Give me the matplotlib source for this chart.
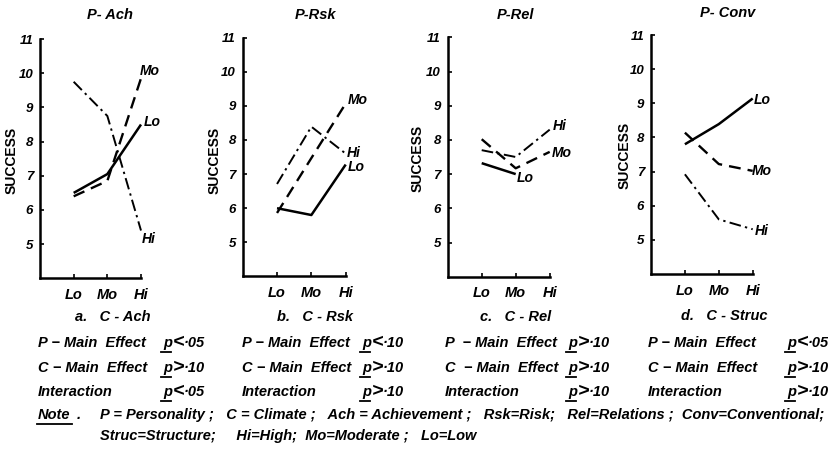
import matplotlib
matplotlib.use("Agg")
import matplotlib.pyplot as plt
from matplotlib.lines import Line2D

# ---------------- data ----------------
climate_levels = ["Lo", "Mo", "Hi"]
panel_titles = ["P- Ach", "P-Rsk", "P-Rel", "P- Conv"]
panel_xlabels = ["a.   C - Ach", "b.   C - Rsk", "c.   C - Rel", "d.   C - Struc"]

# success values by personality level (Lo, Mo, Hi) over climate (Lo, Mo, Hi)
ach_lo = [6.5, 7.05, 8.5]
ach_mo = [6.4, 6.85, 9.85]
ach_hi = [9.75, 8.75, 5.4]

rsk_lo = [6.0, 5.8, 7.28]
rsk_mo = [5.86, 7.47, 9.07]
rsk_hi = [6.71, 8.39, 7.6]

rel_lo = [7.32, 7.0]
rel_mo = [8.02, 7.17, 7.65]
rel_hi = [7.7, 7.5, 8.3]

conv_lo = [7.8, 8.39, 9.14]
conv_mo = [8.14, 7.22, 7.02]
conv_hi = [6.92, 5.6, 5.31]

y_ticks = [5, 6, 7, 8, 9, 10, 11]

p_main = ["<·05", "<·10", ">·10", "<·05"]
c_main = [">·10", ">·10", ">·10", ">·10"]
interaction = ["<·05", ">·10", ">·10", ">·10"]

panels = [
    {"Lo": ach_lo, "Mo": ach_mo, "Hi": ach_hi},
    {"Lo": rsk_lo, "Mo": rsk_mo, "Hi": rsk_hi},
    {"Lo": rel_lo, "Mo": rel_mo, "Hi": rel_hi},
    {"Lo": conv_lo, "Mo": conv_mo, "Hi": conv_hi},
]

# ---------------- layout ----------------
W, H = 829, 459
fig = plt.figure(figsize=(W / 100, H / 100), dpi=100)
FONT = "Liberation Sans"


def fx(x):
    return x / W


def fy(y):
    return 1 - y / H


# axes boxes in pixels: left, top, right, bottom
boxes = [
    (40, 39, 141, 278.4),
    (242.7, 37.7, 345.7, 276.4),
    (447.7, 37.3, 549.7, 276.7),
    (651, 35, 752.7, 274),
]
title_pos = [(110, 15), (315, 15), (515, 15), (728, 13)]
xlabel_pos = [(113, 317), (315, 317), (516, 317), (724, 316)]
ylabel_pos = [(12, 160), (215, 160), (418, 158), (625, 155)]

styles = {
    "Lo": dict(linestyle="-", lw=1.8),
    "Mo": dict(linestyle=(0, (5, 3)), lw=1.7),
    "Hi": dict(linestyle=(0, (6, 2.2, 1.2, 2.2)), lw=1.4),
}

# label positions (data coords) for line end labels
label_pos = [
    {"Mo": (3.25, 10.06), "Lo": (3.32, 8.57), "Hi": (3.24, 5.15)},
    {"Mo": (3.35, 9.17), "Hi": (3.22, 7.61), "Lo": (3.32, 7.2)},
    {"Hi": (3.28, 8.41), "Mo": (3.35, 7.63), "Lo": (2.27, 6.88)},
    {"Lo": (3.27, 9.11), "Mo": (3.27, 7.02), "Hi": (3.27, 5.26)},
]

tfont = dict(family=FONT, weight="bold", style="italic")

for i, (l, t, r, b) in enumerate(boxes):
    ax = fig.add_axes([fx(l), fy(b), fx(r) - fx(l), (b - t) / H])
    ax.set_xlim(0, 3)
    ax.set_ylim(4, 11)
    for lvl in ["Lo", "Mo", "Hi"]:
        vals = panels[i][lvl]
        xs = list(range(1, len(vals) + 1))
        ax.plot(xs, vals, color="black", solid_capstyle="butt",
                dash_capstyle="butt", clip_on=False, **styles[lvl])
        lx, ly = label_pos[i][lvl]
        ax.text(lx, ly, lvl, ha="center", va="center", fontsize=10,
                clip_on=False, **tfont)
    ax.spines["top"].set_visible(False)
    ax.spines["right"].set_visible(False)
    for s in ["left", "bottom"]:
        ax.spines[s].set_linewidth(1.8)
    ax.set_xticks([1, 2, 3])
    ax.set_xticklabels(climate_levels)
    ax.set_yticks(y_ticks)
    ax.set_yticklabels([str(v) for v in y_ticks])
    ax.tick_params(axis="both", direction="in", length=3, width=1.2,
                   labelsize=9.5)
    ax.tick_params(axis="x", labelsize=10.5)
    ax.tick_params(axis="y", pad=5)
    ax.tick_params(axis="x", pad=7)
    for lab in ax.get_xticklabels() + ax.get_yticklabels():
        lab.set_fontfamily(FONT)
        lab.set_fontweight("bold")
        lab.set_fontstyle("italic")
    ax.patch.set_alpha(0)

    tx, ty = title_pos[i]
    fig.text(fx(tx), fy(ty), panel_titles[i], ha="center", va="center",
             fontsize=10.5, **tfont)
    xx, xy = xlabel_pos[i]
    fig.text(fx(xx), fy(xy), panel_xlabels[i], ha="center", va="center",
             fontsize=10.5, **tfont)
    yx, yy = ylabel_pos[i]
    fig.text(fx(yx), fy(yy), "SUCCESS", ha="center", va="center",
             rotation=90, fontsize=10, family=FONT, weight="bold")

# ---------------- statistics table ----------------
row_y = [343, 368, 392]
row_names = [["P − Main  Effect", "C − Main  Effect", "Interaction"],
             ["P − Main  Effect", "C − Main  Effect", "Interaction"],
             ["P  − Main  Effect", "C  − Main  Effect", "Interaction"],
             ["P − Main  Effect", "C − Main  Effect", "Interaction"]]
col_x = [38, 242, 445, 648]
p_x = [163, 362, 568, 787]
rows = [p_main, c_main, interaction]

for ci in range(4):
    for ri in range(3):
        y = row_y[ri]
        fig.text(fx(col_x[ci]), fy(y), row_names[ci][ri], ha="left", va="center",
                 fontsize=10.5, **tfont)
        fig.text(fx(p_x[ci]), fy(y), "p", ha="left", va="center",
                 fontsize=10.5, **tfont)
        fig.add_artist(Line2D([fx(p_x[ci] - 2), fx(p_x[ci] + 8)],
                              [fy(y + 9), fy(y + 9)], color="black", lw=1.3))
        sym = rows[ri][ci]
        fig.text(fx(p_x[ci] + 10), fy(y), sym[0], ha="left", va="center",
                 fontsize=14, **tfont)
        fig.text(fx(p_x[ci] + 21), fy(y), sym[1:], ha="left", va="center",
                 fontsize=10.5, **tfont)

# ---------------- note ----------------
fig.text(fx(38), fy(415), "Note", ha="left", va="center", fontsize=10.5, **tfont)
fig.add_artist(Line2D([fx(37), fx(72)], [fy(424), fy(424)], color="black", lw=1.3))
fig.text(fx(77), fy(415), ".", ha="left", va="center", fontsize=10.5, **tfont)
fig.text(fx(100), fy(415),
         "P = Personality ;   C = Climate ;   Ach = Achievement ;   Rsk=Risk;   Rel=Relations ;  Conv=Conventional;",
         ha="left", va="center", fontsize=10.5, **tfont)
fig.text(fx(100), fy(436),
         "Struc=Structure;     Hi=High;  Mo=Moderate ;   Lo=Low",
         ha="left", va="center", fontsize=10.5, **tfont)

fig.savefig("out.png", dpi=100)
